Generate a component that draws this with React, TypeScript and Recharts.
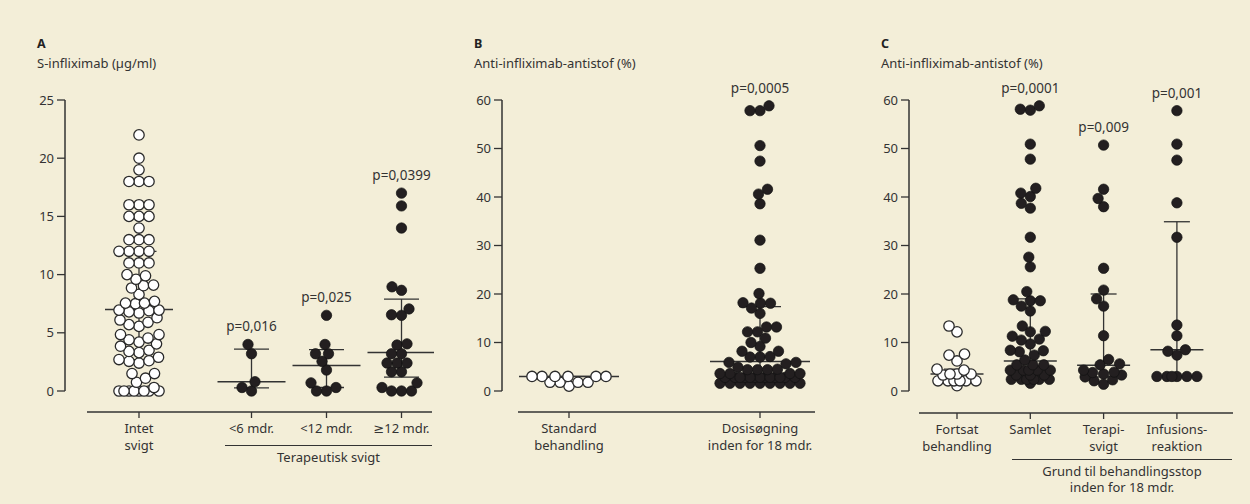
import React from "react";
import { ScatterChart, Scatter, XAxis, YAxis, ReferenceLine, ReferenceDot } from "recharts";

// ---------- Panel A: S-infliximab (µg/ml) ----------
const aCategories = ["Intet\nsvigt", "<6 mdr.", "<12 mdr.", "≥12 mdr."];
const aIntet = [
  22, 20, 19, 18, 18, 18, 16, 16, 16, 15, 15, 15, 14, 13, 13, 13, 12, 12, 12, 12, 11, 11, 11,
  10, 9.9, 9.6, 9.05, 9.1, 8.85, 8.3, 7.7, 7.5, 7.55, 7.55, 6.95, 6.8, 6.7, 6.9, 6.95,
  6.1, 5.7, 5.55, 5.9, 6.3, 4.85, 4.55, 4.2, 4.4, 4.85, 3.85, 3.4, 3.3, 3.5, 4.05,
  2.9, 2.6, 2.4, 2.55, 2.7, 1.5, 1.1, 0.75, 1.5, 0.3, 0, 0, 0, 0, 0, 0, 0, 0,
];
const aLt6 = [4.0, 3.2, 0.8, 0.3, 0];
const aLt12 = [6.5, 4.0, 3.2, 3.2, 2.55, 1.8, 0.7, 0.3, 0, 0];
const aGe12 = [17.0, 15.9, 14.0, 8.65, 8.95, 6.55, 6.5, 7.05, 3.95, 4.05, 3.2, 3.2, 2.4, 2.4, 2.4, 1.65, 1.65, 0.7, 0, 0, 0, 0.3];
const aMedian = [7.0, 0.8, 2.2, 3.3];
const aQ1 = [2.7, 0.27, 0.3, 1.2];
const aQ3 = [12, 3.6, 3.55, 7.9];
const aPValues = ["", "p=0,016", "p=0,025", "p=0,0399"];
const aYTicks = [0, 5, 10, 15, 20, 25];
const aGroupLabel = ["Terapeutisk svigt"];

// ---------- Panel B: anti-infliximab-antistof (%) ----------
const bCategories = ["Standard\nbehandling", "Dosisøgning\ninden for 18 mdr."];
const bStandard = [3, 3, 3, 3, 3, 3, 1.8, 1.8, 1.8, 1.8, 1.0];
const bDosis = [
  58.8, 57.8, 57.8, 50.6, 47.4, 41.6, 40.6, 38.6, 31.1, 25.3, 20.1, 18.2, 18.1, 18.1, 17.1, 16.0,
  13.2, 13.2, 12.2, 12.2, 10.9, 10.0, 9.2, 8.2, 8.2, 7.1, 7.0, 7.0, 5.9, 5.9, 5.6, 4.9, 4.4, 4.5, 4.4, 4.4,
  3.6, 3.6, 3.6, 3.6, 2.8, 2.8, 2.8, 2.8, 2.8, 2.8, 2.8, 2.8, 2.8, 2.8, 2.8, 2.8, 2.8,
  1.6, 1.6, 1.6, 1.6, 1.6, 1.6, 1.6, 1.6, 1.6,
];
const bMedian = [3.0, 6.1];
const bQ1 = [1.8, 2.8];
const bQ3 = [3.0, 17.4];
const bPValues = ["", "p=0,0005"];
const bYTicks = [0, 10, 20, 30, 40, 50, 60];

// ---------- Panel C: anti-infliximab-antistof (%) by reason ----------
const cCategories = ["Fortsat\nbehandling", "Samlet", "Terapi-\nsvigt", "Infusions-\nreaktion"];
const cFortsat = [13.4, 12.2, 7.4, 7.6, 6.2, 4.3, 4.5, 3.3, 3.5, 3.5, 3.5, 2.1, 2.1, 2.1, 2.1, 2.1, 2.1, 1.1];
const cSamlet = [
  58.1, 57.9, 58.8, 50.9, 47.8, 41.8, 40.8, 40.1, 38.7, 37.7, 31.7, 27.6, 25.6, 20.5, 18.6, 18.8, 18.6,
  17.5, 16.5, 13.4, 12.2, 12.3, 11.3, 10.5, 10.7, 9.7, 8.3, 8.4, 8.1, 7.4, 6.4, 5.4, 5.4, 5.4,
  4.3, 4.3, 4.3, 4.3, 4.3, 3.3, 3.3, 3.3, 2.4, 2.4, 2.4, 2.4, 2.4, 2.4, 1.6,
];
const cTerapi = [50.7, 41.6, 39.7, 38.0, 25.3, 20.8, 19.0, 17.5, 11.4, 6.5, 5.6, 5.4, 3.5, 3.8, 4.3, 3.9, 3.3, 2.3, 2.9, 2.1, 1.4];
const cInfusion = [57.8, 50.9, 47.6, 38.8, 31.7, 13.6, 11.4, 8.5, 8.2, 7.4, 3.0, 3.0, 3.0, 3.0, 3.0, 3.0];
const cMedian = [3.5, 6.2, 5.3, 8.5];
const cQ1 = [2.2, 2.8, 2.9, 3.0];
const cQ3 = [4.5, 19.0, 20.0, 34.9];
const cPValues = ["", "p=0,0001", "p=0,009", "p=0,001"];
const cYTicks = [0, 10, 20, 30, 40, 50, 60];
const cGroupLabel = ["Grund til behandlingsstop", "inden for 18 mdr."];

const FONT = '"Noto Sans", "DejaVu Sans", sans-serif';
const INK = "#333";
const BG = "#F3EED8";
const DOT_R = 5.2;
const FS = 13;

type Layout = {
  axisX: number; top: number; y0: number; bottom: number; right: number;
  firstPx: number; slotPx: number; slots: number[];
  lineFrom: number; lineTo: number;
  medHalf: number; qHalf: number; swarmW: number;
  titleX: number;
  bracket?: { from: number; to: number; y: number };
};

// simple beeswarm: place each point as close to the centre as it can go
function swarm(values: number[], slot: number, pxPerY: number, slotPx: number, maxW: number) {
  const sorted = [...values].sort((a, b) => a - b);
  const placed: { x: number; y: number }[] = [];
  const diam = DOT_R * 2 - 0.6;
  return sorted.map((v) => {
    const py = v * pxPerY;
    let best = 0;
    let bestD = -1;
    for (let k = 0; k <= maxW * 4; k++) {
      const off = (k % 2 === 1 ? -1 : 1) * Math.ceil(k / 2) * 0.5;
      let minD = Infinity;
      for (const p of placed) {
        const d = Math.hypot(p.x - off, p.y - py);
        if (d < minD) minD = d;
      }
      if (minD >= diam) { best = off; bestD = minD; break; }
      if (minD > bestD + 0.01) { bestD = minD; best = off; }
    }
    placed.push({ x: best, y: py });
    return { x: slot + best / slotPx, y: v };
  });
}

function Panel(props: {
  letter: string; title: string; groups: number[][]; filled: boolean[]; categories: string[];
  medians: number[]; q1: number[]; q3: number[]; pValues: string[]; yMax: number; yTicks: number[];
  groupLabel?: string[]; layout: Layout;
}) {
  const { layout: L, yMax } = props;
  const pxPerY = (L.y0 - L.top) / yMax;
  const yMin = -(L.bottom - L.y0) / pxPerY;
  const toX = (px: number) => (px - L.firstPx) / L.slotPx;
  const xDomain = [toX(L.axisX), toX(L.right)];
  const chartLeft = L.axisX - 60;
  const width = L.right - chartLeft;
  const medW = L.medHalf / L.slotPx;
  const qW = L.qHalf / L.slotPx;

  const renderTick = (p: any) => {
    const idx = L.slots.indexOf(p.payload.value);
    const lines = (props.categories[idx] ?? "").split("\n");
    return (
      <text x={p.x} y={p.y} textAnchor="middle" fill={INK} fontSize={FS} fontFamily={FONT}>
        {lines.map((l, i) => (
          <tspan key={i} x={p.x} dy={i === 0 ? "0.72em" : 17}>{l}</tspan>
        ))}
      </text>
    );
  };

  return (
    <>
      <div style={{ position: "absolute", left: L.titleX, top: 35, fontWeight: 700, fontSize: 12.5, color: "#222" }}>{props.letter}</div>
      <div style={{ position: "absolute", left: L.titleX, top: 54, fontSize: FS, color: INK }}>{props.title}</div>
      <div style={{ position: "absolute", left: chartLeft, top: 0 }}>
        <ScatterChart width={width} height={504} margin={{ top: L.top, right: 0, bottom: 0, left: 0 }}>
          <XAxis
            type="number" dataKey="x" domain={xDomain} ticks={L.slots} allowDataOverflow interval={0}
            axisLine={false} tickSize={6} tickMargin={6} tickLine={{ stroke: INK, strokeWidth: 1.3 }}
            height={504 - L.bottom} tick={renderTick}
          />
          <YAxis
            type="number" dataKey="y" domain={[yMin, yMax]} ticks={props.yTicks} allowDataOverflow width={60}
            axisLine={false} tickSize={8} tickMargin={3} tickLine={{ stroke: INK, strokeWidth: 1.3 }}
            tick={{ fill: INK, fontSize: FS, fontFamily: FONT }}
          />
          <ReferenceLine ifOverflow="visible" stroke={INK} strokeWidth={1.5}
            segment={[{ x: xDomain[0], y: 0 }, { x: xDomain[0], y: yMax }]} />
          <ReferenceLine ifOverflow="visible" stroke={INK} strokeWidth={1.5}
            segment={[{ x: toX(L.lineFrom), y: yMin }, { x: toX(L.lineTo), y: yMin }]} />
          {props.medians.map((m, i) => {
            const s = L.slots[i];
            return (
              <React.Fragment key={"st" + i}>
                <ReferenceLine ifOverflow="visible" stroke={INK} strokeWidth={1.3}
                  segment={[{ x: s, y: props.q1[i] }, { x: s, y: props.q3[i] }]} />
                <ReferenceLine ifOverflow="visible" stroke={INK} strokeWidth={1.3}
                  segment={[{ x: s - qW, y: props.q1[i] }, { x: s + qW, y: props.q1[i] }]} />
                <ReferenceLine ifOverflow="visible" stroke={INK} strokeWidth={1.3}
                  segment={[{ x: s - qW, y: props.q3[i] }, { x: s + qW, y: props.q3[i] }]} />
                <ReferenceLine ifOverflow="visible" stroke={INK} strokeWidth={1.5}
                  segment={[{ x: s - medW, y: m }, { x: s + medW, y: m }]} />
              </React.Fragment>
            );
          })}
          {props.groups.map((g, i) => (
            <Scatter
              key={"g" + i}
              data={swarm(g, L.slots[i], pxPerY, L.slotPx, L.swarmW)}
              isAnimationActive={false}
              shape={(p: any) => (
                <circle cx={p.cx} cy={p.cy} r={DOT_R}
                  fill={props.filled[i] ? "#231f20" : "#ffffff"}
                  stroke={props.filled[i] ? "#111" : "#2a2a2a"}
                  strokeWidth={props.filled[i] ? 0.7 : 1.3} />
              )}
            />
          ))}
          {props.pValues.map((t, i) =>
            t ? (
              <ReferenceDot key={"p" + i} x={L.slots[i]} y={Math.max(...props.groups[i])} r={0.01}
                fill="none" stroke="none" ifOverflow="visible"
                label={{ value: t, position: "top", offset: 13, fill: INK, fontSize: 13.5, fontFamily: FONT }} />
            ) : null
          )}
        </ScatterChart>
      </div>
      {L.bracket && props.groupLabel && (
        <>
          <div style={{ position: "absolute", left: L.bracket.from, top: L.bracket.y, width: L.bracket.to - L.bracket.from, borderTop: `1.5px solid ${INK}` }} />
          <div style={{ position: "absolute", left: L.bracket.from, top: L.bracket.y + 4, width: L.bracket.to - L.bracket.from, textAlign: "center", fontSize: FS, lineHeight: "16px", color: INK }}>
            {props.groupLabel.map((l, i) => <div key={i}>{l}</div>)}
          </div>
        </>
      )}
    </>
  );
}

const layoutA: Layout = {
  axisX: 65, top: 100, y0: 391, bottom: 412, right: 434, firstPx: 139, slotPx: 75, slots: [0, 1.5, 2.5, 3.5],
  lineFrom: 87, lineTo: 432, medHalf: 34, qHalf: 17.5, swarmW: 20, titleX: 37,
  bracket: { from: 225, to: 432, y: 445 },
};
const layoutB: Layout = {
  axisX: 502, top: 100, y0: 391, bottom: 412, right: 817, firstPx: 569, slotPx: 95.5, slots: [0, 2],
  lineFrom: 518, lineTo: 815, medHalf: 50, qHalf: 21, swarmW: 40, titleX: 474,
};
const layoutC: Layout = {
  axisX: 909, top: 100, y0: 391, bottom: 413, right: 1235, firstPx: 957, slotPx: 73.3, slots: [0, 1, 2, 3],
  lineFrom: 919, lineTo: 1233, medHalf: 26.5, qHalf: 13, swarmW: 20, titleX: 881,
  bracket: { from: 1012, to: 1232, y: 459 },
};

export default function App() {
  return (
    <div style={{ position: "relative", width: 1250, height: 504, background: BG, fontFamily: FONT, overflow: "hidden" }}>
      <style>{"body{margin:0}"}</style>
      <Panel letter="A" title="S-infliximab (µg/ml)" groups={[aIntet, aLt6, aLt12, aGe12]} filled={[false, true, true, true]}
        categories={aCategories} medians={aMedian} q1={aQ1} q3={aQ3} pValues={aPValues} yMax={25} yTicks={aYTicks}
        groupLabel={aGroupLabel} layout={layoutA} />
      <Panel letter="B" title="Anti-infliximab-antistof (%)" groups={[bStandard, bDosis]} filled={[false, true]}
        categories={bCategories} medians={bMedian} q1={bQ1} q3={bQ3} pValues={bPValues} yMax={60} yTicks={bYTicks}
        layout={layoutB} />
      <Panel letter="C" title="Anti-infliximab-antistof (%)" groups={[cFortsat, cSamlet, cTerapi, cInfusion]} filled={[false, true, true, true]}
        categories={cCategories} medians={cMedian} q1={cQ1} q3={cQ3} pValues={cPValues} yMax={60} yTicks={cYTicks}
        groupLabel={cGroupLabel} layout={layoutC} />
    </div>
  );
}
